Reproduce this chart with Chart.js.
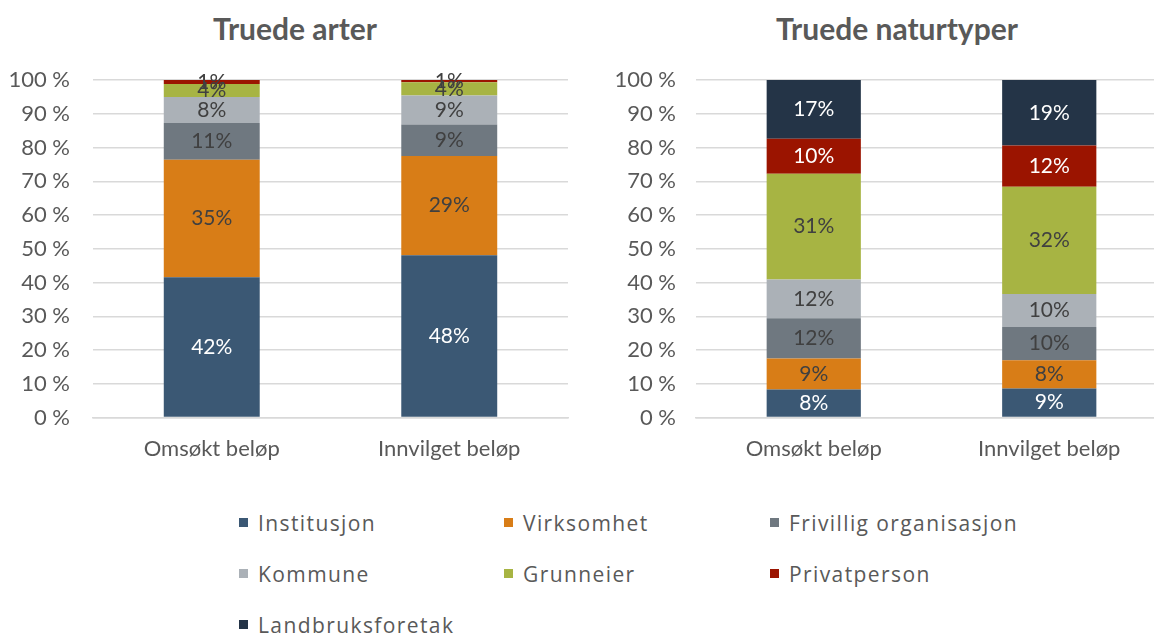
<!DOCTYPE html>
<html>
<head>
<meta charset="utf-8">
<script src="https://cdn.jsdelivr.net/npm/chart.js@4.4.1/dist/chart.umd.min.js"></script>
<style>
  html, body { margin: 0; padding: 0; background: #fff; overflow: hidden; }
  body { width: 1154px; height: 635px; position: relative; }
  .box { position: absolute; top: 0; height: 482px; width: 580px; }
  #leftBox { left: 0; }
  #rightBox { left: 600px; }
  .title { position: absolute; top: 10px; width: 400px; text-align: center;
    font-family: Lato, "Open Sans", sans-serif; font-weight: bold; font-size: 30px; color: #595959; line-height: 36px; }
  #leftTitle { left: 95px; }
  #rightTitle { left: 697px; }
  #legend { position: absolute; left: 239px; top: 508px; width: 820px;
    display: grid; grid-template-columns: 265px 266px 265px; row-gap: 22px;
    font-family: "Open Sans", sans-serif; font-size: 21px; color: #595959; letter-spacing: 1.4px; }
  #legend .item { display: flex; align-items: center; height: 29px; }
  #legend .sw { width: 9px; height: 9px; margin-right: 10px; flex: none; }
</style>
</head>
<body>
<div class="title" id="leftTitle">Truede arter</div>
<div class="title" id="rightTitle">Truede naturtyper</div>
<div class="box" id="leftBox"><canvas id="leftChart"></canvas></div>
<div class="box" id="rightBox"><canvas id="rightChart"></canvas></div>
<div id="legend"></div>
<script>
// categories and series
const categories = ["Omsøkt beløp", "Innvilget beløp"];
const seriesNames = ["Institusjon", "Virksomhet", "Frivillig organisasjon", "Kommune", "Grunneier", "Privatperson", "Landbruksforetak"];
const seriesColors = ["#3B5874", "#D87D17", "#6F7880", "#ABB1B7", "#A7B443", "#9B1400", "#243447"];
const labelColors = ["#ffffff", "#404040", "#404040", "#404040", "#404040", "#ffffff", "#ffffff"];

// Truede arter: [Omsøkt, Innvilget] per series
const arterInstitusjon = [41.6, 48.1];
const arterVirksomhet = [34.8, 29.4];
const arterFrivillig = [10.9, 9.3];
const arterKommune = [7.7, 8.6];
const arterGrunneier = [3.8, 3.9];
const arterPrivatperson = [1.2, 0.7];
const arterLandbruk = [0, 0];

// Truede naturtyper
const naturInstitusjon = [8.3, 8.6];
const naturVirksomhet = [9.2, 8.4];
const naturFrivillig = [11.9, 9.8];
const naturKommune = [11.5, 9.8];
const naturGrunneier = [31.3, 31.8];
const naturPrivatperson = [10.4, 12.2];
const naturLandbruk = [17.4, 19.4];

const yTicks = [0, 10, 20, 30, 40, 50, 60, 70, 80, 90, 100];

const arterData = [arterInstitusjon, arterVirksomhet, arterFrivillig, arterKommune, arterGrunneier, arterPrivatperson, arterLandbruk];
const naturData = [naturInstitusjon, naturVirksomhet, naturFrivillig, naturKommune, naturGrunneier, naturPrivatperson, naturLandbruk];

const FONT = "Lato, 'Open Sans', sans-serif";
const TEXT = "#595959";

// draws the percentage inside each segment
const segmentLabels = {
  id: "segmentLabels",
  afterDatasetsDraw(chart) {
    const ctx = chart.ctx;
    ctx.save();
    ctx.font = "21px " + FONT;
    ctx.textAlign = "center";
    ctx.textBaseline = "middle";
    chart.data.datasets.forEach((ds, i) => {
      const meta = chart.getDatasetMeta(i);
      meta.data.forEach((bar, j) => {
        const v = ds.data[j];
        if (v < 0.5) return;
        // tiny segments: the label sits on white, so keep it dark
        const h = Math.abs(bar.base - bar.y);
        ctx.fillStyle = h < 12 ? "#404040" : labelColors[i];
        ctx.fillText(Math.round(v) + "%", bar.x, (bar.y + bar.base) / 2);
      });
    });
    ctx.restore();
  }
};

function makeChart(id, data, padRight, axisWidth, tickPad, barPct) {
  const datasets = seriesNames.map((name, i) => ({
    label: name,
    data: data[i],
    backgroundColor: seriesColors[i],
    borderWidth: 0,
    barPercentage: barPct,
    categoryPercentage: 1
  }));
  return new Chart(document.getElementById(id), {
    type: "bar",
    data: { labels: categories, datasets: datasets },
    plugins: [segmentLabels],
    options: {
      responsive: true,
      maintainAspectRatio: false,
      animation: false,
      layout: { padding: { left: 0, right: padRight, top: 80, bottom: 10 } },
      plugins: {
        legend: { display: false },
        tooltip: { enabled: false },
        title: { display: false }
      },
      scales: {
        x: {
          stacked: true,
          grid: { display: false },
          border: { color: "#D9D9D9", width: 1.5 },
          ticks: { color: TEXT, font: { family: FONT, size: 22 }, padding: 10 }
        },
        y: {
          stacked: true,
          min: 0,
          max: 100,
          afterBuildTicks(scale) { scale.ticks = yTicks.map(v => ({ value: v })); },
          afterFit(scale) { scale.width = axisWidth; },
          grid: { color: "#D9D9D9", lineWidth: 1.5, drawTicks: false },
          border: { display: false },
          ticks: {
            color: TEXT,
            font: { family: FONT, size: 22 },
            padding: tickPad,
            callback: v => v + " %"
          }
        }
      }
    }
  });
}

makeChart("leftChart", arterData, 12, 93, 23, 0.404);
makeChart("rightChart", naturData, 13, 96, 20, 0.4);

// legend
const legend = document.getElementById("legend");
seriesNames.forEach((name, i) => {
  const item = document.createElement("div");
  item.className = "item";
  item.innerHTML = '<span class="sw" style="background:' + seriesColors[i] + '"></span><span>' + name + '</span>';
  legend.appendChild(item);
});
</script>
</body>
</html>
